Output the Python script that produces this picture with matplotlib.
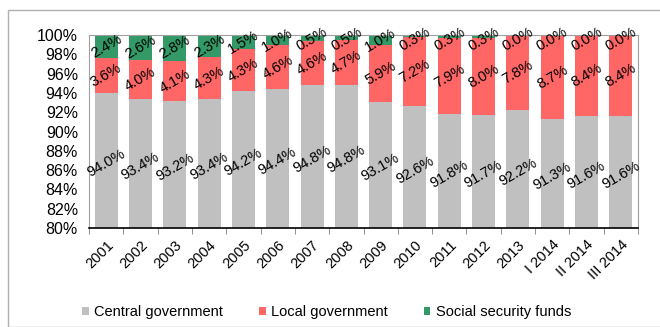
import numpy as np
import matplotlib.pyplot as plt
from matplotlib.patches import Rectangle

plt.rcParams['font.family'] = ['Liberation Sans', 'DejaVu Sans']

periods = ['2001', '2002', '2003', '2004', '2005', '2006', '2007', '2008', '2009',
           '2010', '2011', '2012', '2013', 'I 2014', 'II 2014', 'III 2014']
central = [94.0, 93.4, 93.2, 93.4, 94.2, 94.4, 94.8, 94.8, 93.1, 92.6, 91.8, 91.7, 92.2, 91.3, 91.6, 91.6]
local = [3.6, 4.0, 4.1, 4.3, 4.3, 4.6, 4.6, 4.7, 5.9, 7.2, 7.9, 8.0, 7.8, 8.7, 8.4, 8.4]
social = [2.4, 2.6, 2.8, 2.3, 1.5, 1.0, 0.5, 0.5, 1.0, 0.3, 0.3, 0.3, 0.0, 0.0, 0.0, 0.0]

c_gray, c_red, c_green = '#C0C0C0', '#FF6666', '#339966'

fig = plt.figure(figsize=(6.6, 3.27), dpi=100)
fig.patches.append(Rectangle((8 / 660, 0), 1, 1 - 10 / 327, transform=fig.transFigure,
                             fill=False, edgecolor='#b0b0b0', lw=1))
ax = fig.add_axes([89 / 660, 1 - 228 / 327, (638 - 89) / 660, (228 - 35) / 327])

x = np.arange(len(periods))
central = np.array(central)
local = np.array(local)
social = np.array(social)
w = 0.67
ax.bar(x, central, w, color=c_gray, label='Central government')
ax.bar(x, local, w, bottom=central, color=c_red, label='Local government')
ax.bar(x, social, w, bottom=central + local, color=c_green, label='Social security funds')

lo = 80
fs = 10.5
for i in range(len(x)):
    ax.text(x[i], (lo + central[i]) / 2 - 0.3, f'{central[i]:.1f}%', rotation=30,
            ha='center', va='center', fontsize=fs)
    ax.text(x[i], central[i] + local[i] / 2, f'{local[i]:.1f}%', rotation=30,
            ha='center', va='center', fontsize=fs)
    top = central[i] + local[i]
    ax.text(x[i], min(top + social[i] / 2, 99.6), f'{social[i]:.1f}%', rotation=30,
            ha='center', va='center', fontsize=fs)

ax.set_xlim(-0.5, len(x) - 0.5)
ax.set_ylim(80, 100)
ax.set_yticks(np.arange(80, 101, 2))
ax.set_yticklabels([f'{v}%' for v in range(80, 101, 2)], fontsize=11.5)
ax.tick_params(axis='y', length=0, pad=8)
ax.set_xticks(x)
ax.set_xticklabels(periods, rotation=45, ha='right', rotation_mode='anchor', fontsize=10.5)
ax.tick_params(axis='x', which='major', length=0, pad=7)
ax.set_xticks(np.arange(-0.5, len(x), 1), minor=True)
ax.tick_params(axis='x', which='minor', length=4, color='#808080')
for s in ['left', 'top', 'right']:
    ax.spines[s].set_color('#a0a0a0')
ax.spines['bottom'].set_color('black')
ax.spines['bottom'].set_linewidth(1.2)

fig.legend(loc='center left', bbox_to_anchor=(82 / 660, 1 - 312 / 327), ncol=3, frameon=False,
           handlelength=0.45, handleheight=0.45, handletextpad=0.35, columnspacing=2.5,
           fontsize=10.5, borderaxespad=0, borderpad=0)

fig.savefig('out.png', dpi=100)
